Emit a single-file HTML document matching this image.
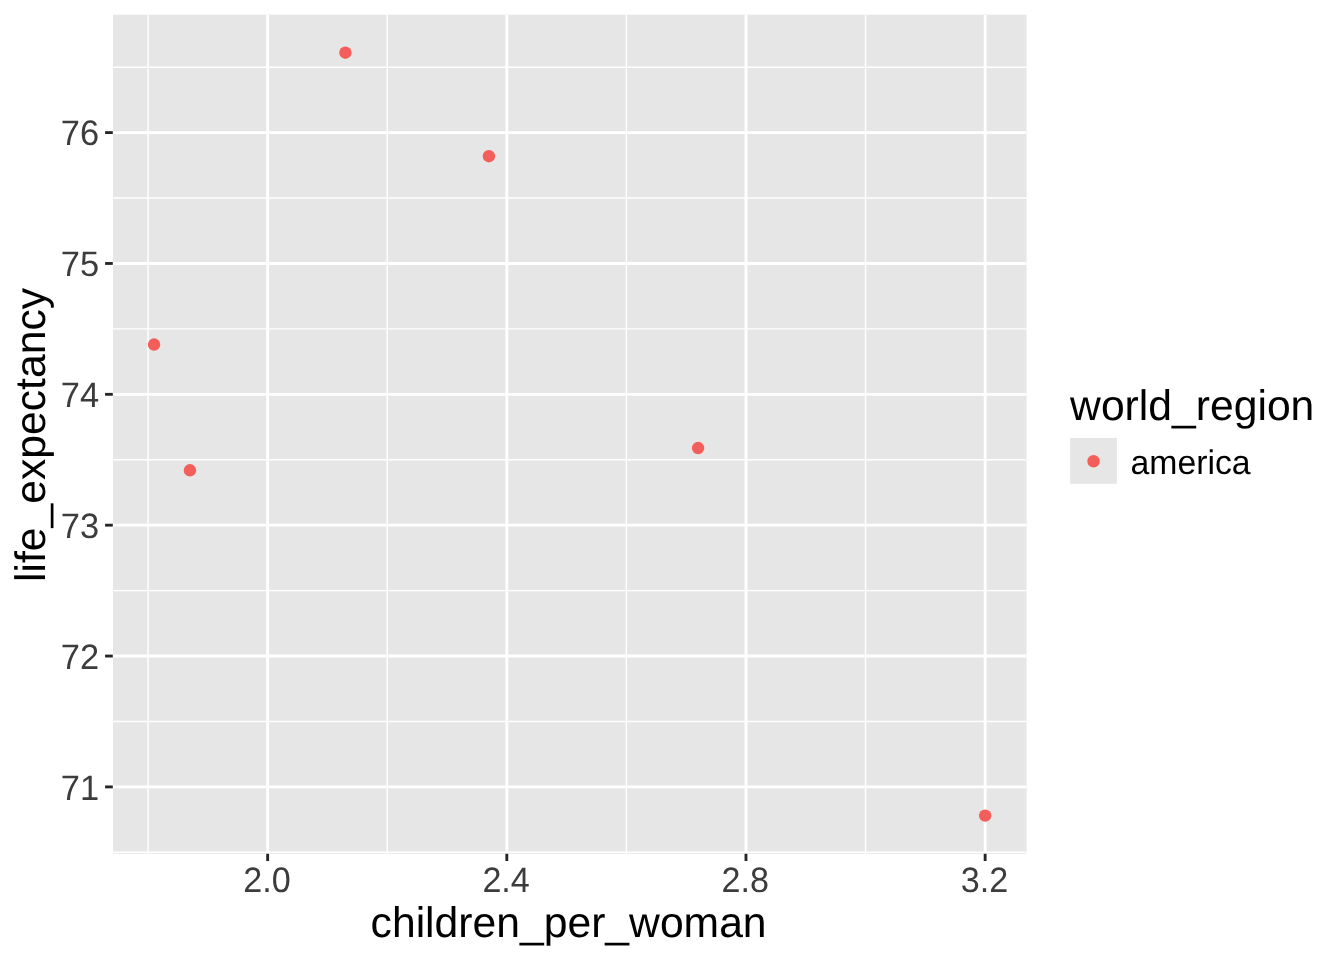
<!DOCTYPE html>
<html lang="en">
<head>
<meta charset="utf-8">
<title>life_expectancy vs children_per_woman</title>
<style>
html,body{margin:0;padding:0;background:#fff;}
body{width:1344px;height:960px;overflow:hidden;}
svg{display:block;}
text{font-family:"Liberation Sans",Arial,Helvetica,sans-serif;text-rendering:geometricPrecision;}
.ax{font-size:34.13px;fill:#3c3c3c;}
.ti{font-size:42.67px;fill:#000000;}
.lg{font-size:34.13px;fill:#000000;}
</style>
</head>
<body>
<svg width="1344" height="960" viewBox="0 0 1344 960">
<rect x="0" y="0" width="1344" height="960" fill="#fff"/>
<rect x="113.0" y="14.67" width="913.60" height="839.08" fill="#E6E6E6"/>
<defs><clipPath id="pc"><rect x="113.0" y="14.67" width="913.60" height="839.08"/></clipPath></defs>
<g clip-path="url(#pc)">
<g stroke="#FFFFFF" stroke-width="1.42" fill="none">
<line x1="113.0" x2="1026.6" y1="852.33" y2="852.33"/>
<line x1="113.0" x2="1026.6" y1="721.47" y2="721.47"/>
<line x1="113.0" x2="1026.6" y1="590.61" y2="590.61"/>
<line x1="113.0" x2="1026.6" y1="459.75" y2="459.75"/>
<line x1="113.0" x2="1026.6" y1="328.89" y2="328.89"/>
<line x1="113.0" x2="1026.6" y1="198.03" y2="198.03"/>
<line x1="113.0" x2="1026.6" y1="67.17" y2="67.17"/>
<line y1="14.67" y2="853.75" x1="148.07" x2="148.07"/>
<line y1="14.67" y2="853.75" x1="387.23" x2="387.23"/>
<line y1="14.67" y2="853.75" x1="626.39" x2="626.39"/>
<line y1="14.67" y2="853.75" x1="865.55" x2="865.55"/>
</g>
<g stroke="#FFFFFF" stroke-width="2.85" fill="none">
<line x1="113.0" x2="1026.6" y1="786.90" y2="786.90"/>
<line x1="113.0" x2="1026.6" y1="656.04" y2="656.04"/>
<line x1="113.0" x2="1026.6" y1="525.18" y2="525.18"/>
<line x1="113.0" x2="1026.6" y1="394.32" y2="394.32"/>
<line x1="113.0" x2="1026.6" y1="263.46" y2="263.46"/>
<line x1="113.0" x2="1026.6" y1="132.60" y2="132.60"/>
<line y1="14.67" y2="853.75" x1="267.65" x2="267.65"/>
<line y1="14.67" y2="853.75" x1="506.81" x2="506.81"/>
<line y1="14.67" y2="853.75" x1="745.97" x2="745.97"/>
<line y1="14.67" y2="853.75" x1="985.13" x2="985.13"/>
</g>
<g fill="#F35E5A">
<circle cx="154.05" cy="344.55" r="6.2"/>
<circle cx="189.95" cy="470.3" r="6.2"/>
<circle cx="345.4" cy="52.7" r="6.2"/>
<circle cx="488.9" cy="156.2" r="6.2"/>
<circle cx="698.1" cy="448.05" r="6.2"/>
<circle cx="985.15" cy="815.6" r="6.2"/>
</g>
</g>
<g stroke="#252525" stroke-width="2.85" fill="none">
<line x1="105.1" x2="112.8" y1="786.90" y2="786.90"/>
<line x1="105.1" x2="112.8" y1="656.04" y2="656.04"/>
<line x1="105.1" x2="112.8" y1="525.18" y2="525.18"/>
<line x1="105.1" x2="112.8" y1="394.32" y2="394.32"/>
<line x1="105.1" x2="112.8" y1="263.46" y2="263.46"/>
<line x1="105.1" x2="112.8" y1="132.60" y2="132.60"/>
<line y1="853.75" y2="861.0" x1="267.65" x2="267.65"/>
<line y1="853.75" y2="861.0" x1="506.81" x2="506.81"/>
<line y1="853.75" y2="861.0" x1="745.97" x2="745.97"/>
<line y1="853.75" y2="861.0" x1="985.13" x2="985.13"/>
</g>
<g class="ax">
<text transform="translate(99.2,800) scale(1.01,1.035)" text-anchor="end">71</text>
<text transform="translate(99.2,669) scale(1.01,1.035)" text-anchor="end">72</text>
<text transform="translate(99.2,538) scale(1.01,1.035)" text-anchor="end">73</text>
<text transform="translate(99.2,407) scale(1.01,1.035)" text-anchor="end">74</text>
<text transform="translate(99.2,276) scale(1.01,1.035)" text-anchor="end">75</text>
<text transform="translate(99.2,145) scale(1.01,1.035)" text-anchor="end">76</text>
<text transform="translate(266.95,892) scale(1,1.035)" text-anchor="middle">2.0</text>
<text transform="translate(506.11,892) scale(1,1.035)" text-anchor="middle">2.4</text>
<text transform="translate(745.27,892) scale(1,1.035)" text-anchor="middle">2.8</text>
<text transform="translate(984.43,892) scale(1,1.035)" text-anchor="middle">3.2</text>
</g>
<g class="ti">
<text x="568.6" y="937" text-anchor="middle">children_per_woman</text>
<text transform="translate(45.1,434.95) rotate(-90)" text-anchor="middle">life_expectancy</text>
<text x="1070.1" y="420">world_region</text>
</g>
<rect x="1070.1" y="438" width="46.85" height="45.8" fill="#E6E6E6"/>
<circle cx="1093.55" cy="461.25" r="6.2" fill="#F35E5A"/>
<text class="lg" transform="translate(1130.5,473.7) scale(0.99,1)">america</text>
</svg>
</body>
</html>
